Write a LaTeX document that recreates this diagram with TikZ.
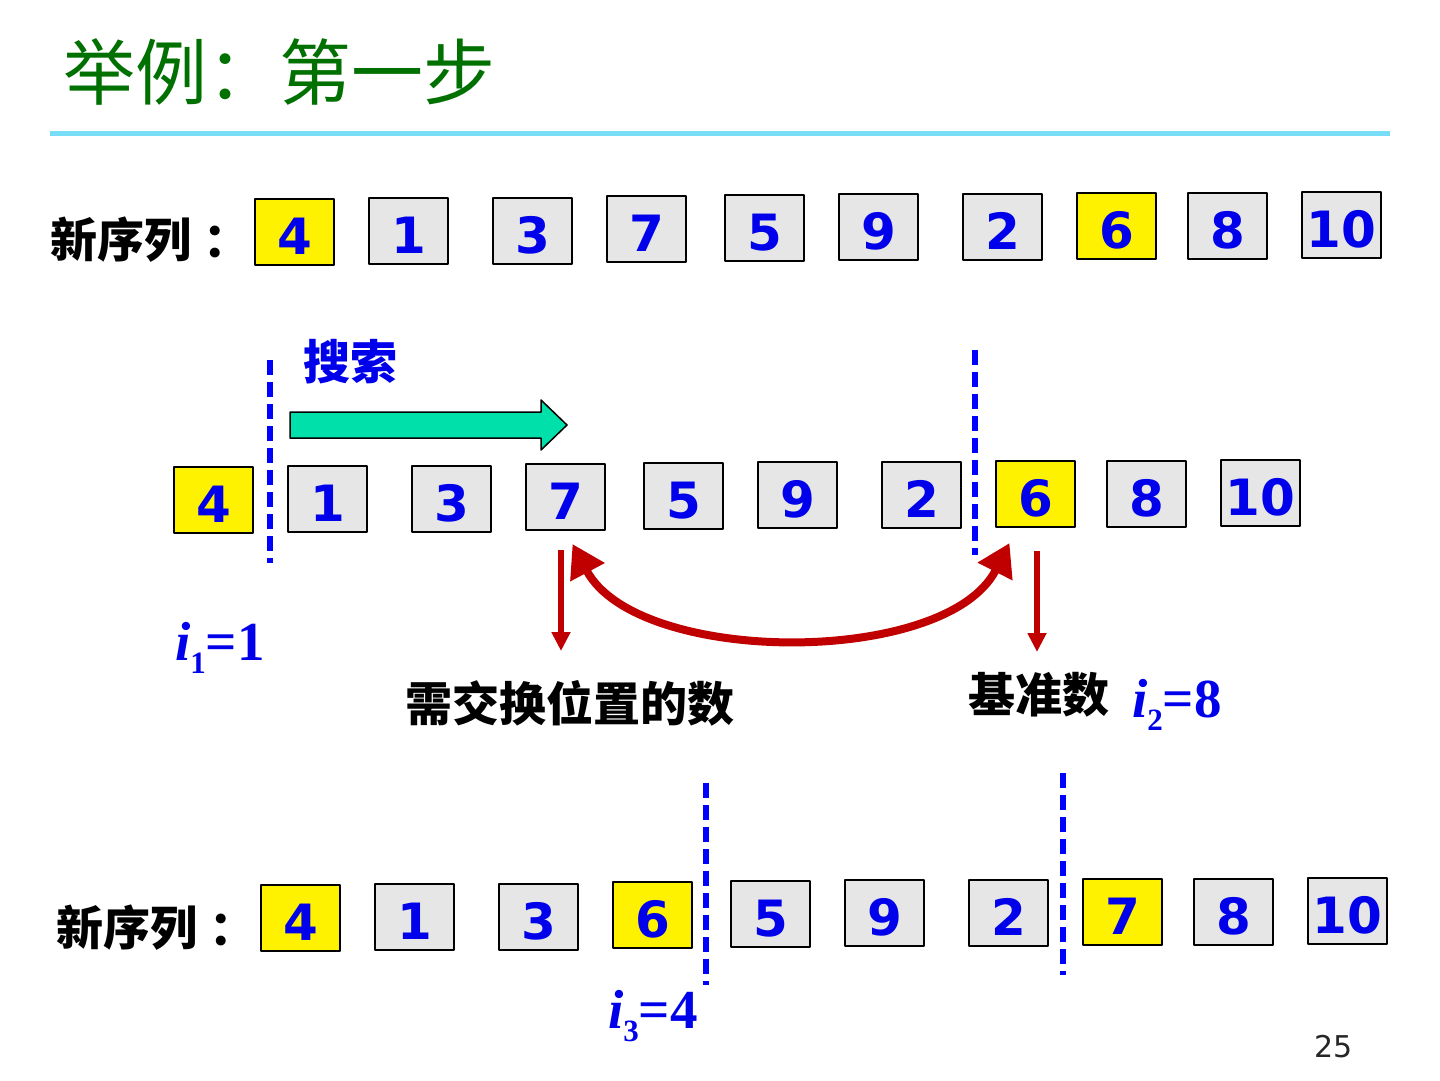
\documentclass[tikz,border=0pt]{standalone}
\usepackage{fontspec}
\setmainfont{DejaVu Sans}
\newfontfamily\cjk{Noto Sans CJK SC}
\newfontfamily\tmsfont{Liberation Serif}
\usetikzlibrary{arrows.meta}
\definecolor{titlegreen}{RGB}{0,112,0}
\definecolor{cellgray}{RGB}{230,230,230}
\definecolor{numblue}{RGB}{0,0,235}
\definecolor{swapred}{RGB}{192,0,0}
\definecolor{barcyan}{RGB}{120,222,248}
\definecolor{searchgreen}{RGB}{0,224,170}
\newcommand{\fsz}[1]{\fontsize{#1}{#1}\selectfont}
\newcommand{\idx}[2]{\textit{i}\raisebox{-13pt}{\fsz{31}#1}=#2}
\begin{document}
\begin{tikzpicture}[x=1pt,y=-1pt,line join=round,
  cell/.style={draw,line width=2pt,minimum width=79pt,minimum height=66pt,inner sep=0pt,
    fill=cellgray,text=numblue,font=\bfseries\fsz{50},text height=44pt,text depth=0pt},
  divider/.style={blue,line width=6pt,dash pattern=on 15pt off 7pt},
  pointer/.style={swapred,line width=5.5pt,-{Triangle[length=19pt,width=18pt]}},
  swap/.style={swapred,line width=8pt,{Triangle[length=32pt,width=37pt]}-{Triangle[length=32pt,width=37pt]}},
  cjklabel/.style={inner sep=0pt,anchor=west,font=\cjk\bfseries\fsz{47}},
  idxlabel/.style={inner sep=0pt,anchor=base west,text=numblue,font=\tmsfont\bfseries\fsz{55}}]
\useasboundingbox (0,0) rectangle (1440,1080);
\fill[white] (0,0) rectangle (1440,1080);
\node[inner sep=0pt,anchor=west,text=titlegreen,font=\cjk\fsz{72}] (title) at (63,72) {举例：第一步};
\draw[barcyan,line width=5pt] (50,133) -- (1390,133);
\node[cjklabel] (seq1) at (50,240) {新序列\kern12pt：};
\foreach \v/\dx/\dy/\c [count=\k] in {4/0/0/yellow,1/114/-1/cellgray,3/238/-1/cellgray,7/352/-3/cellgray,
    5/470/-4/cellgray,9/584/-5/cellgray,2/708/-5/cellgray,6/822/-6/yellow,8/933/-6/cellgray,10/1047/-7/cellgray}
  \node[cell,fill=\c] (a\k) at (294.5+\dx,232+\dy) {\v};
\node[cjklabel,text=numblue] (search) at (303,362) {搜索};
\draw[fill=searchgreen,line width=1.5pt] (290,412) -- (541,412) -- (541,400) -- (567,425) -- (541,450) -- (541,438) -- (290,438) -- cycle;
\foreach \v/\dx/\dy/\c [count=\k] in {4/0/0/yellow,1/114/-1/cellgray,3/238/-1/cellgray,7/352/-3/cellgray,
    5/470/-4/cellgray,9/584/-5/cellgray,2/708/-5/cellgray,6/822/-6/yellow,8/933/-6/cellgray,10/1047/-7/cellgray}
  \node[cell,fill=\c] (b\k) at (213.5+\dx,500+\dy) {\v};
\draw[divider] (270,360) -- (270,563);
\draw[divider] (975,350) -- (975,555);
\draw[pointer] ([xshift=-4.5pt,yshift=-19pt]b4.south) -- ++(0,101);
\draw[pointer] ([xshift=1.5pt,yshift=-23pt]b8.south) -- ++(0,101);
\draw[swap] ([xshift=7pt,yshift=-13pt]b4.south) .. controls +(65,122) and +(-63,124) .. ([xshift=-26pt,yshift=-15pt]b8.south);
\node[idxlabel] (i1) at (175,660) {\idx{1}{1}};
\node[cjklabel] (swaplabel) at (405,703) {需交换位置的数};
\node[cjklabel] (pivot) at (968,695) {基准数};
\node[idxlabel] (i2) at (1132,717) {\idx{2}{8}};
\node[cjklabel] (seq2) at (56,928) {新序列\kern12pt：};
\foreach \v/\dx/\dy/\c [count=\k] in {4/0/0/yellow,1/114/-1/cellgray,3/238/-1/cellgray,6/352/-3/yellow,
    5/470/-4/cellgray,9/584/-5/cellgray,2/708/-5/cellgray,7/822/-6/yellow,8/933/-6/cellgray,10/1047/-7/cellgray}
  \node[cell,fill=\c] (c\k) at (300.5+\dx,918+\dy) {\v};
\draw[divider] (706,783) -- (706,985);
\draw[divider] (1063,773) -- (1063,975);
\node[idxlabel] (i3) at (608,1028) {\idx{3}{4}};
\node[inner sep=0pt,anchor=base west,font=\fsz{30},text=black!85] (page) at (1314,1057) {25};
\end{tikzpicture}
\end{document}
